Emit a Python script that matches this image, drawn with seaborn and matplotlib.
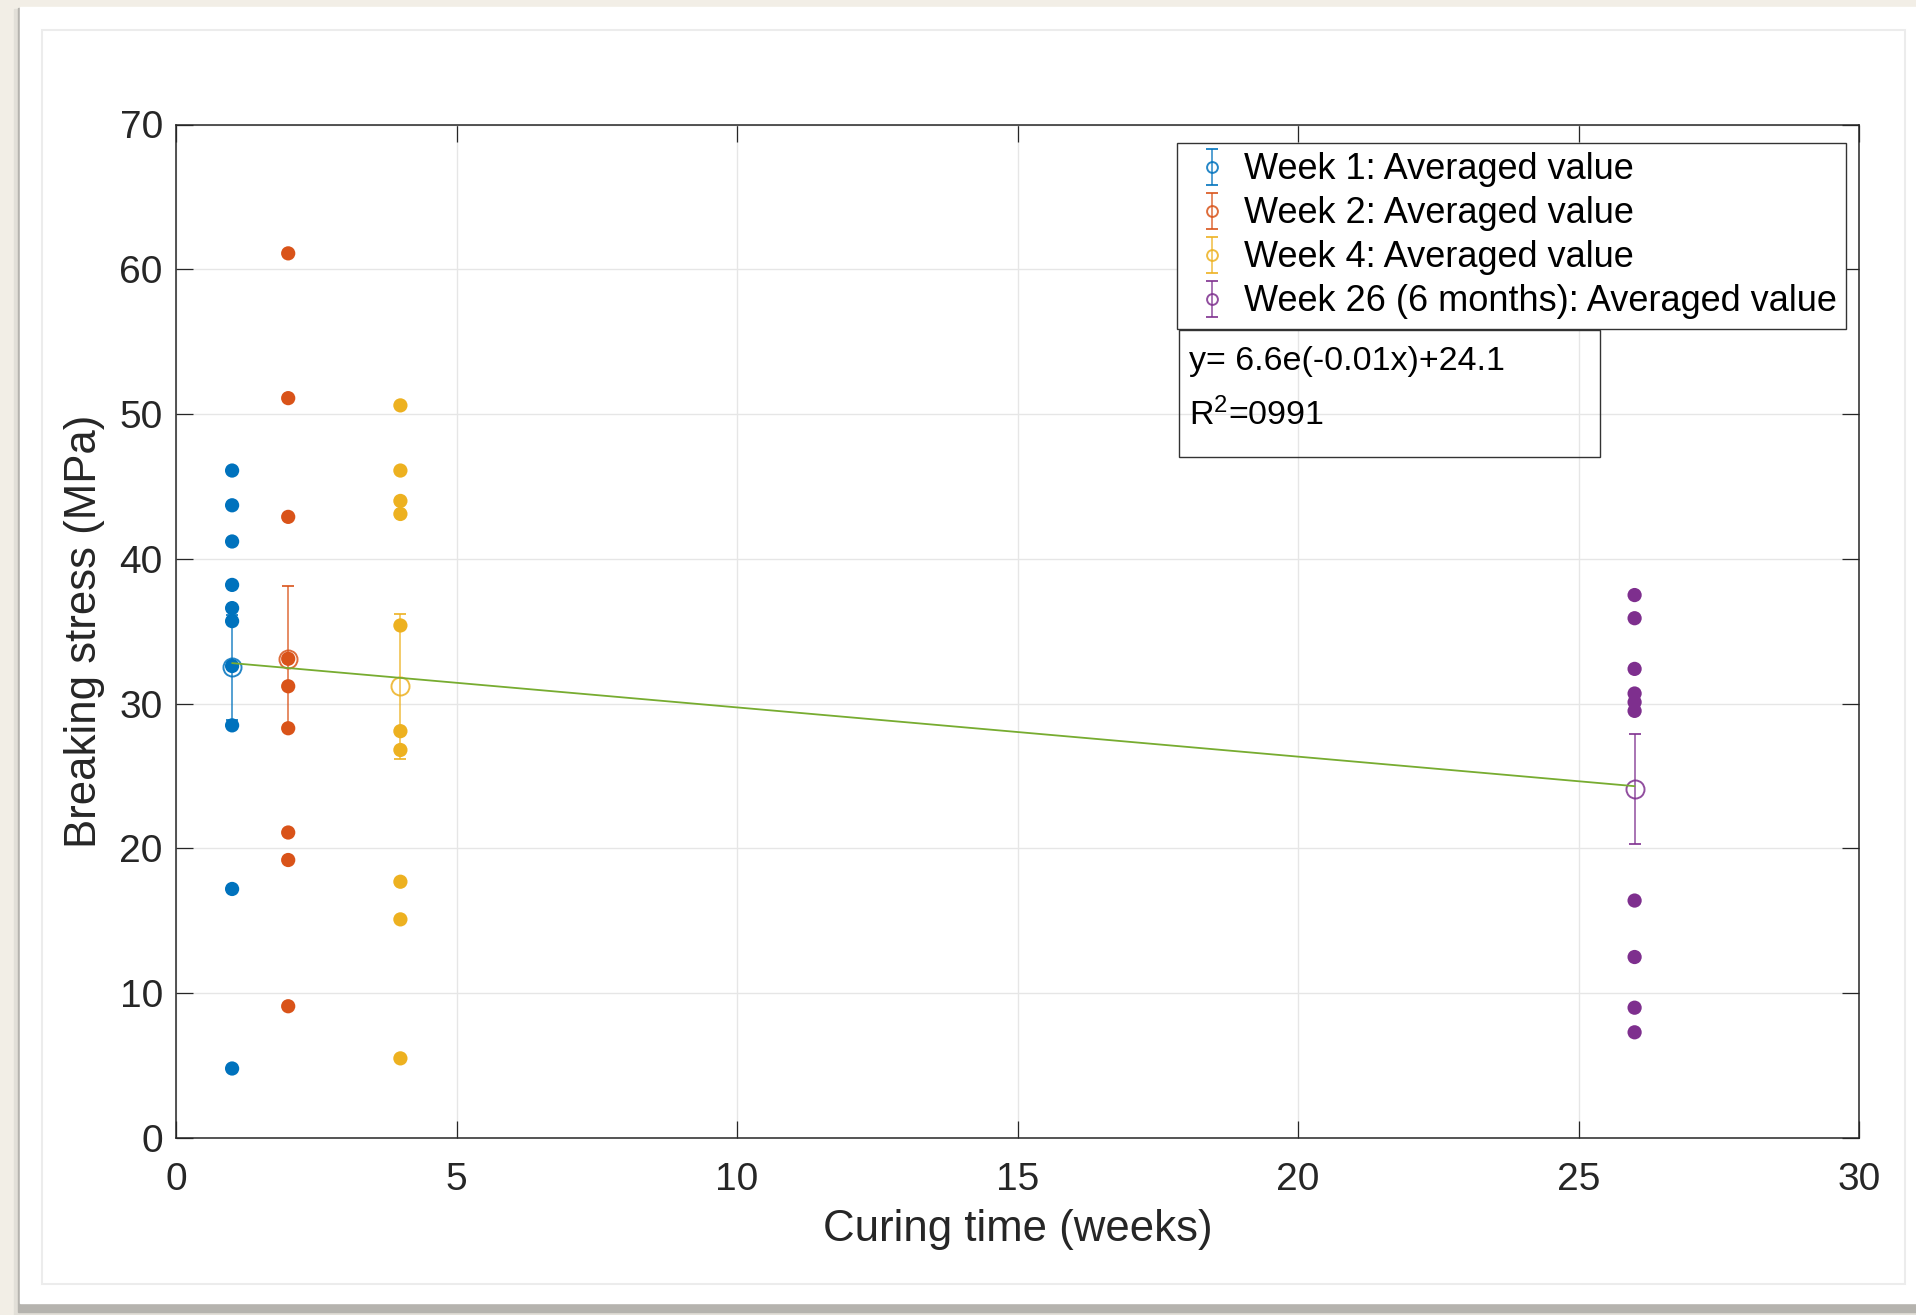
import numpy as np
import pandas as pd
import seaborn as sns
import matplotlib.pyplot as plt
from matplotlib.patches import Rectangle

# ---------------- data
weeks = [1, 2, 4, 26]
labels = ["Week 1: Averaged value",
          "Week 2: Averaged value",
          "Week 4: Averaged value",
          "Week 26 (6 months): Averaged value"]
colors = ["#0072BD", "#D95319", "#EDB120", "#7E2F8E"]

week1 = [46.1, 43.7, 41.2, 38.2, 36.6, 35.7, 32.6, 28.5, 17.2, 4.8]
week2 = [61.1, 51.1, 42.9, 33.1, 31.2, 28.3, 21.1, 19.2, 9.1]
week4 = [50.6, 46.1, 44.0, 43.1, 35.4, 28.1, 26.8, 17.7, 15.1, 5.5]
week26 = [37.5, 35.9, 32.4, 30.7, 30.1, 29.5, 16.4, 12.5, 9.0, 7.3]

avg_values = [32.5, 33.1, 31.2, 24.1]
avg_errors = [3.6, 5.0, 5.0, 3.8]

fit_x = [1, 26]
fit_y = [32.8, 24.3]

eq_text = "y= 6.6e(-0.01x)+24.1"
r2_text = "R$^{2}$=0991"

x_ticks = [0, 5, 10, 15, 20, 25, 30]
y_ticks = [0, 10, 20, 30, 40, 50, 60, 70]

# ---------------------
rows = []
for wk, vals in zip(weeks, [week1, week2, week4, week26]):
    for v in vals:
        rows.append({"week": wk, "stress": v})
df = pd.DataFrame(rows)

sns.set_theme(style="whitegrid")
plt.rcParams['font.family'] = ['Liberation Sans', 'DejaVu Sans']
plt.rcParams['mathtext.default'] = 'regular'

W, H = 1916, 1315


def fx(x):
    return x / W


def fy(y):
    return 1 - y / H


fig = plt.figure(figsize=(19.16, 13.15), dpi=100, facecolor="#f2eee6")

# page card with shadow
fig.add_artist(Rectangle((fx(14), fy(1315)), 1, (1315 - 9) / H,
                         transform=fig.transFigure, color="#e2dfd8", zorder=0))
fig.add_artist(Rectangle((fx(18), fy(1312)), 1, (1312 - 8) / H,
                         transform=fig.transFigure, color="#b5b3ae", zorder=0))
fig.add_artist(Rectangle((fx(20), fy(1303)), 1, (1303 - 7) / H,
                         transform=fig.transFigure, color="white", zorder=0))
fig.add_artist(Rectangle((fx(42), fy(1284)), (1905 - 42) / W, (1284 - 30) / H,
                         transform=fig.transFigure, fill=False,
                         edgecolor="#ececec", lw=1.5, zorder=0))

ax = fig.add_axes([fx(176), fy(1138), (1859 - 176) / W, (1138 - 124.5) / H])
ax.set_facecolor("white")

handles = []
for wk, m, e, c, lab in zip(weeks, avg_values, avg_errors, colors, labels):
    h = ax.errorbar(wk, m, yerr=e, fmt='o', mfc='none', mec=c, ms=13, mew=1.4,
                    ecolor=c, elinewidth=1.1, capsize=4.5, capthick=1.1,
                    alpha=0.85, zorder=2, label=lab)
    handles.append(h)

sns.scatterplot(data=df, x="week", y="stress", hue="week", palette=dict(zip(weeks, colors)),
                s=105, linewidth=0, legend=False, ax=ax, zorder=3)

sns.lineplot(x=fit_x, y=fit_y, color="#77AC30", lw=1.3, ax=ax, zorder=4)

ax.set_xlim(0, 30)
ax.set_ylim(0, 70)
ax.set_xticks(x_ticks)
ax.set_yticks(y_ticks)
ax.grid(True, color="#e6e6e6", lw=1.0)
ax.set_axisbelow(True)
for s in ax.spines.values():
    s.set_color("#262626")
    s.set_linewidth(1.1)
    s.set_visible(True)
ax.tick_params(axis='both', direction='in', length=12, width=0.9, color="#262626",
               labelsize=28, labelcolor="#262626", top=True, right=True,
               bottom=True, left=True)
ax.tick_params(axis='x', pad=17)
ax.tick_params(axis='y', pad=9.5)
ax.set_xlabel("Curing time (weeks)", fontsize=31.5, color="#262626", labelpad=8.5)
ax.set_ylabel("Breaking stress (MPa)", fontsize=31.5, color="#262626", labelpad=10.5)

leg = ax.legend(handles=handles, labels=labels, loc='upper left',
                bbox_to_anchor=(fx(1177), fy(143)), bbox_transform=fig.transFigure,
                borderaxespad=0, fontsize=26, frameon=True, fancybox=False,
                edgecolor="#333333", framealpha=1, borderpad=0.26, labelspacing=0.25,
                handlelength=1.4, handletextpad=0.2, markerscale=0.6)
leg.get_frame().set_linewidth(1.0)
for t in leg.get_texts():
    t.set_color("black")

fig.add_artist(Rectangle((fx(1179), fy(457)), (1600 - 1179) / W, (457 - 330) / H,
                         transform=fig.transFigure, fill=False,
                         edgecolor="#333333", lw=1.0, zorder=5))
fig.text(fx(1189), fy(361), eq_text, va='center', ha='left', fontsize=24.5, color="black")
fig.text(fx(1189), fy(415), r2_text, va='center', ha='left', fontsize=24.5, color="black")

fig.savefig("out.png", dpi=100, facecolor=fig.get_facecolor())
